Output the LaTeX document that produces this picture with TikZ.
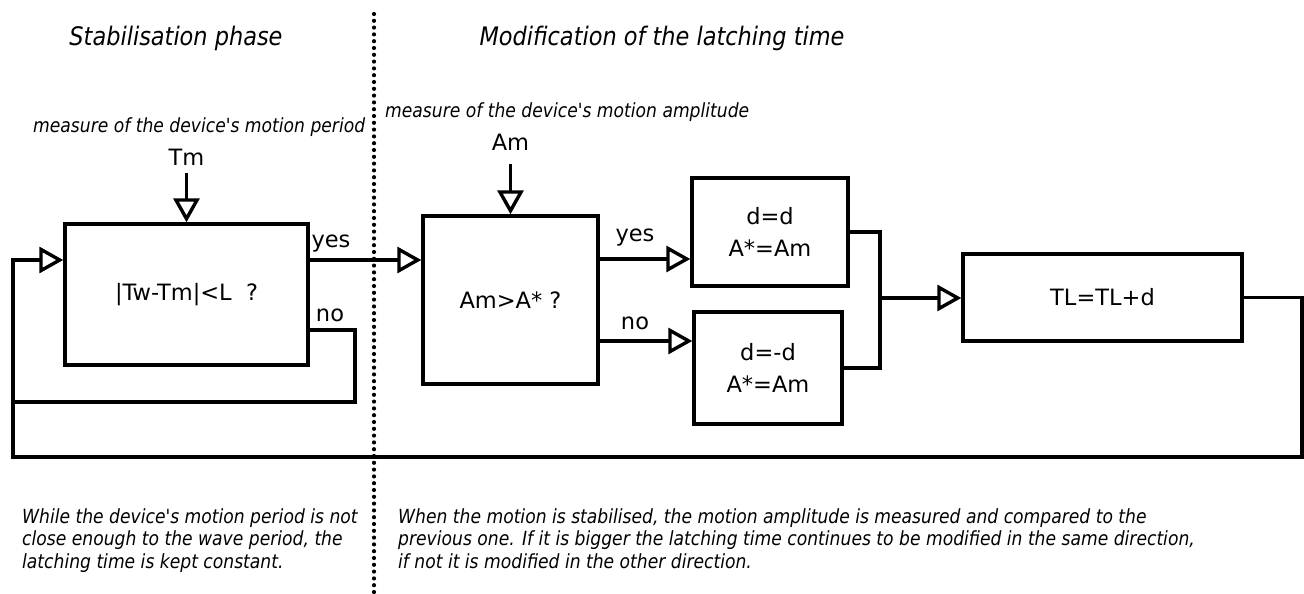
\documentclass[tikz,border=0pt]{standalone}
\usepackage{fontspec}
\setmainfont{DejaVu Sans}
\newfontfamily\obl[FakeStretch=0.88]{DejaVu Sans}
\usetikzlibrary{arrows.meta}
\begin{document}
\begin{tikzpicture}[x=1pt,y=-1pt,
  conn/.style={line width=3.4pt},
  arr/.style={line width=3.4pt,-{Triangle[open,length=24pt,width=26pt]}},
  box/.style={draw,line width=3.4pt,inner sep=0pt,font=\fontsize{22.5}{32}\selectfont,align=center},
  lab/.style={inner sep=0pt,font=\fontsize{22.5}{26}\selectfont},
  note/.style={inner sep=0pt,font=\obl\itshape\fontsize{19.5}{22.5}\selectfont,align=left,anchor=north west},
  meas/.style={inner sep=0pt,font=\obl\itshape\fontsize{19.5}{22.5}\selectfont,anchor=west},
  ttl/.style={inner sep=0pt,font=\obl\itshape\fontsize{25.5}{30}\selectfont},
  dots/.style={line width=4.2pt,line cap=round,dash pattern=on 0pt off 6.8pt}]
\useasboundingbox (0,0) rectangle (1304,594);
\fill[white] (0,0) rectangle (1304,594);

% titles
\node[ttl] (t1) at (176,38) {Stabilisation phase};
\node[ttl] (t2) at (662,38) {Modification of the latching time};

% measure labels
\node[meas] (m1) at (33,127) {measure of the device's motion period};
\node[meas] (m2) at (385,112) {measure of the device's motion amplitude};

% boxes
\node[box,minimum width=243pt,minimum height=141pt] (b1) at (186.5,294.5) {|Tw-Tm|<L\ \ ?};
\node[box,minimum width=175pt,minimum height=168pt] (b2) at (510.5,300) {Am>A* ?};
\node[box,minimum width=156pt,minimum height=108pt] (b3) at (770,232) {d=d\\A*=Am};
\node[box,minimum width=148pt,minimum height=112pt] (b4) at (768,368) {d=-d\\A*=Am};
\node[box,minimum width=279pt,minimum height=87pt] (b5) at (1102.5,297.5) {TL=TL+d};

% inputs
\node[lab] (tm) at (186.5,157) {Tm};
\node[lab] (am) at (510.5,142) {Am};
\draw[arr] (tm.south) ++(0,8) -- (b1.north);
\draw[arr] (am.south) ++(0,14) -- (b2.north);

% branch labels
\node[lab] (y1) at (331,244) {yes};
\node[lab] (n1) at (330,315) {no};
\node[lab] (y2) at (635,238) {yes};
\node[lab] (n2) at (635,323) {no};

% connectors
\coordinate (nr) at (355,330);
\coordinate (nb) at (355,402);
\coordinate (lin) at (13,402);
\coordinate (lt) at (13,260);
\coordinate (rc) at (1302,457);
\coordinate (lc) at (13,457);
\coordinate (j) at (880,298);

\draw[arr] (b1.east |- lt) -- (b2.west |- lt);
\draw[conn] (b1.east |- nr) -- (nr) -- (nb) -- (lin);
\draw[arr] (b5.east) -| (rc) -- (lc) -- (lt) -- (b1.west |- lt);
\draw[arr] (b2.east |- 0,259) -- (b3.west |- 0,259);
\draw[arr] (b2.east |- 0,341) -- (b4.west |- 0,341);
\draw[conn] (b3.east) -| (j);
\draw[conn] (b4.east) -| (j);
\draw[arr] (j) -- (b5.west |- j);

% notes
\node[note] (nl) at (22,508) {While the device's motion period is not\\close enough to the wave period, the\\latching time is kept constant.};
\node[note] (nrt) at (398,508) {When the motion is stabilised, the motion amplitude is measured and compared to the\\previous one. If it is bigger the latching time continues to be modified in the same direction,\\if not it is modified in the other direction.};

% separator
\coordinate (dtop) at (374,14);
\coordinate (dbot) at (374,594);
\draw[dots] (dtop) -- (dbot);
\end{tikzpicture}
\end{document}
